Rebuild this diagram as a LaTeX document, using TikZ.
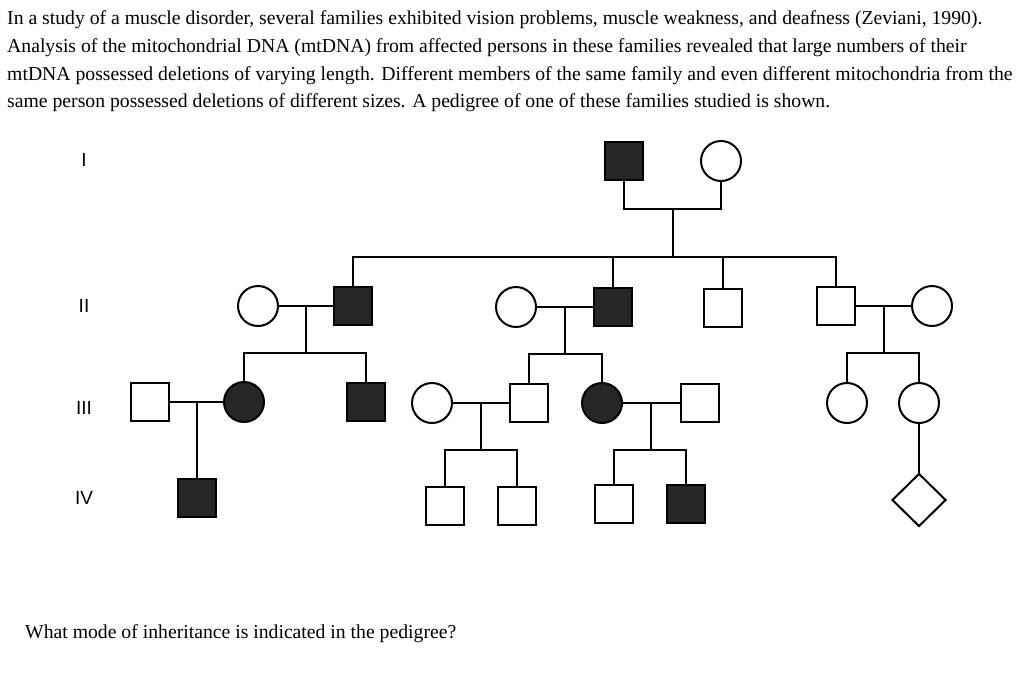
\documentclass[tikz,border=0pt]{standalone}
\usepackage{fontspec}
\setmainfont{Liberation Serif}
\newfontfamily\gensf{Liberation Sans}
\usetikzlibrary{calc,shapes.geometric}

\tikzset{
  male/.style={rectangle,draw,line width=2,minimum size=38,inner sep=0},
  female/.style={circle,draw,line width=2,minimum size=40,inner sep=0},
  unknown/.style={diamond,draw,line width=2,minimum width=54,minimum height=53,inner sep=0},
  affected/.style={fill=black!85},
  link/.style={line width=2},
  gen/.style={font=\gensf\fontsize{19}{19}\selectfont},
  txt/.style={anchor=base west,inner sep=0,font=\fontsize{19.7}{22}\selectfont}
}

\begin{document}
\begin{tikzpicture}[x=1pt,y=-1pt]
\useasboundingbox (0,0) rectangle (1024,678);

% question text
\node[txt] (t1) at (7,24) {In a study of a muscle disorder, several families exhibited vision problems, muscle weakness, and deafness (Zeviani, 1990).};
\node[txt] (t2) at (7,52) {Analysis of the mitochondrial DNA (mtDNA) from affected persons in these families revealed that large numbers of their};
\node[txt] (t3) at (7,80) {mtDNA possessed deletions of varying length. Different members of the same family and even different mitochondria from the};
\node[txt] (t4) at (7,107) {same person possessed deletions of different sizes. A pedigree of one of these families studied is shown.};
\node[txt] (q) at (25,638) {What mode of inheritance is indicated in the pedigree?};

% generation labels
\node[gen] (gI) at (84,160) {I};
\node[gen] (gII) at (84,306) {II};
\node[gen] (gIII) at (84,408) {III};
\node[gen] (gIV) at (84,498) {IV};

% generation I
\node[male,affected] (I1) at (624,161) {};
\node[female] (I2) at (721,161) {};

% generation II
\node[female] (II1) at (258,306) {};
\node[male,affected] (II2) at (353,306) {};
\node[female] (II3) at (516,307) {};
\node[male,affected] (II4) at (613,307) {};
\node[male] (II5) at (723,308) {};
\node[male] (II6) at (836,306) {};
\node[female] (II7) at (932,306) {};

% generation III
\node[male] (III1) at (150,402) {};
\node[female,affected] (III2) at (244,402) {};
\node[male,affected] (III3) at (366,402) {};
\node[female] (III4) at (432,403) {};
\node[male] (III5) at (529,403) {};
\node[female,affected] (III6) at (602,403) {};
\node[male] (III7) at (700,403) {};
\node[female] (III8) at (847,403) {};
\node[female] (III9) at (919,403) {};

% generation IV
\node[male,affected] (IV1) at (197,498) {};
\node[male] (IV2) at (445,506) {};
\node[male] (IV3) at (517,506) {};
\node[male] (IV4) at (614,504) {};
\node[male,affected] (IV5) at (686,504) {};
\node[unknown] (IV6) at (919,500) {};

% couples and sibships
\coordinate (m1) at ($(I1)!0.5!(I2)+(0,48)$);
\coordinate (s1) at ($(m1)+(0,48)$);
\draw[link] (I1.south) |- (m1) -| (I2.south);
\draw[link] (m1) -- (s1);
\foreach \c in {II2,II4,II5,II6}
  \draw[link] (\c.north) |- (s1);

\coordinate (m2) at ($(II1)!0.5!(II2)$);
\coordinate (s2) at ($(m2)+(0,47)$);
\draw[link] (II1.east) -- (II2.west);
\draw[link] (m2) -- (s2);
\foreach \c in {III2,III3}
  \draw[link] (\c.north) |- (s2);

\coordinate (m3) at ($(II3)!0.5!(II4)$);
\coordinate (s3) at ($(m3)+(0,47)$);
\draw[link] (II3.east) -- (II4.west);
\draw[link] (m3) -- (s3);
\foreach \c in {III5,III6}
  \draw[link] (\c.north) |- (s3);

\coordinate (m4) at ($(II6)!0.5!(II7)$);
\coordinate (s4) at ($(m4)+(0,47)$);
\draw[link] (II6.east) -- (II7.west);
\draw[link] (m4) -- (s4);
\foreach \c in {III8,III9}
  \draw[link] (\c.north) |- (s4);

\coordinate (m5) at ($(III1)!0.5!(III2)$);
\draw[link] (III1.east) -- (III2.west);
\draw[link] (m5) -- (IV1.north);

\coordinate (m6) at ($(III4)!0.5!(III5)$);
\coordinate (s6) at ($(m6)+(0,47)$);
\draw[link] (III4.east) -- (III5.west);
\draw[link] (m6) -- (s6);
\foreach \c in {IV2,IV3}
  \draw[link] (\c.north) |- (s6);

\coordinate (m7) at ($(III6)!0.5!(III7)$);
\coordinate (s7) at ($(m7)+(0,47)$);
\draw[link] (III6.east) -- (III7.west);
\draw[link] (m7) -- (s7);
\foreach \c in {IV4,IV5}
  \draw[link] (\c.north) |- (s7);

\draw[link] (III9.south) -- (IV6.north);

\end{tikzpicture}
\end{document}
